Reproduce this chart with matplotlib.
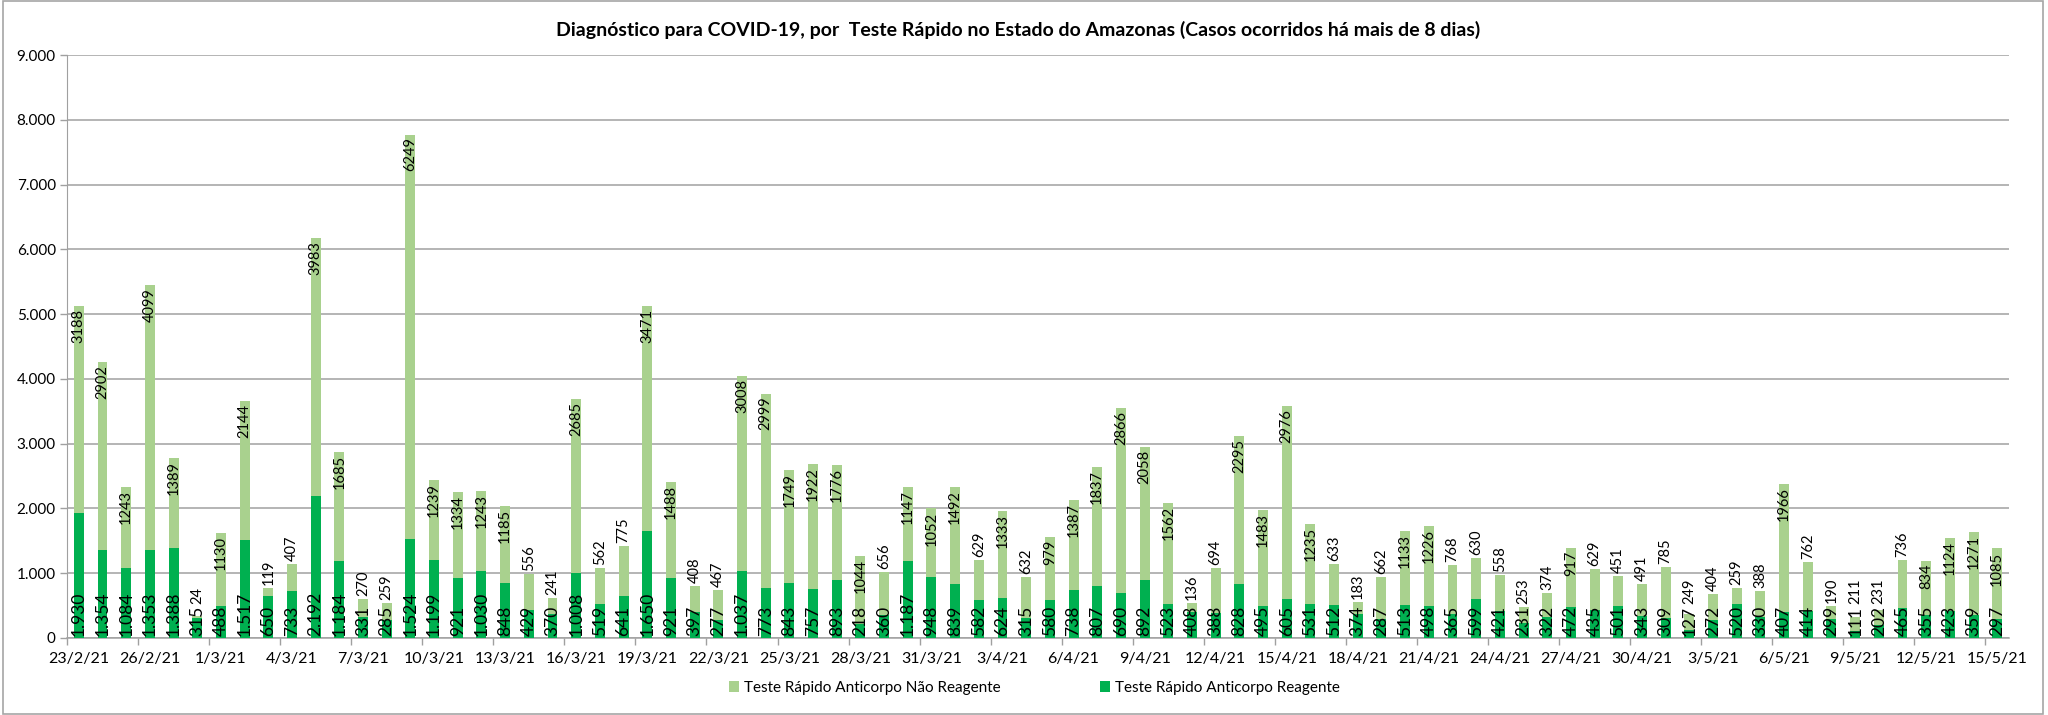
import matplotlib
matplotlib.use("Agg")
import matplotlib.pyplot as plt
from matplotlib.patches import Rectangle, Patch
from matplotlib.ticker import FuncFormatter, FixedLocator
import numpy as np
import pandas as pd

plt.rcParams['font.family'] = ['Lato', 'DejaVu Sans']

dates = pd.date_range('2021-02-23', '2021-05-15', freq='D')

reagente = [
    1930, 1354, 1084, 1353, 1388, 315, 488, 1517, 650, 733,
    2192, 1184, 331, 285, 1524, 1199, 921, 1030, 848, 429,
    370, 1008, 519, 641, 1650, 921, 397, 277, 1037, 773,
    843, 757, 893, 218, 360, 1187, 948, 839, 582, 624,
    315, 580, 738, 807, 690, 892, 523, 408, 388, 828,
    495, 605, 531, 512, 374, 287, 513, 498, 365, 599, 421,
    231, 322, 472, 435, 501, 343, 309, 127, 272, 520,
    330, 407, 414, 299, 111, 202, 465, 355, 423, 359, 297,
]
nao_reagente = [
    3188, 2902, 1243, 4099, 1389, 24, 1130, 2144, 119, 407,
    3983, 1685, 270, 259, 6249, 1239, 1334, 1243, 1185, 556,
    241, 2685, 562, 775, 3471, 1488, 408, 467, 3008, 2999,
    1749, 1922, 1776, 1044, 656, 1147, 1052, 1492, 629, 1333,
    632, 979, 1387, 1837, 2866, 2058, 1562, 136, 694, 2295,
    1483, 2976, 1235, 633, 183, 662, 1133, 1226, 768, 630, 558,
    253, 374, 917, 629, 451, 491, 785, 249, 404, 259,
    388, 1966, 762, 190, 211, 231, 736, 834, 1124, 1271, 1085,
]
tick_labels = ['23/2/21', '26/2/21', '1/3/21', '4/3/21', '7/3/21', '10/3/21',
               '13/3/21', '16/3/21', '19/3/21', '22/3/21', '25/3/21', '28/3/21',
               '31/3/21', '3/4/21', '6/4/21', '9/4/21', '12/4/21', '15/4/21',
               '18/4/21', '21/4/21', '24/4/21', '27/4/21', '30/4/21', '3/5/21',
               '6/5/21', '9/5/21', '12/5/21', '15/5/21']

title = 'Diagnóstico para COVID-19, por  Teste Rápido no Estado do Amazonas (Casos ocorridos há mais de 8 dias)'
name_nao = 'Teste Rápido Anticorpo Não Reagente'
name_rea = 'Teste Rápido Anticorpo Reagente'

LIGHT = '#A9D18E'
DARK = '#00B050'
GRID = '#A0A0A0'

fig = plt.figure(figsize=(20.48, 7.15), dpi=100)
ax = fig.add_axes([0.0327, 0.1077, 0.9483, 0.8153])

n = len(dates)
x = np.arange(n)
rea = np.array(reagente)
nao = np.array(nao_reagente)
w = 0.42
ax.bar(x, rea, width=w, color=DARK, zorder=3)
ax.bar(x, nao, width=w, bottom=rea, color=LIGHT, zorder=3)

ax.set_xlim(-0.5, n - 0.5)
ax.set_ylim(0, 9000)
ax.yaxis.set_major_locator(FixedLocator(np.arange(0, 9001, 1000)))
ax.yaxis.set_major_formatter(FuncFormatter(lambda v, p: f"{int(v):,}".replace(',', '.')))
ax.grid(axis='y', color=GRID, lw=1.1, zorder=0)
ax.set_axisbelow(True)

tick_pos = np.arange(0, n, 3)
ax.set_xticks(tick_pos)
ax.set_xticklabels(tick_labels[:len(tick_pos)], fontsize=11.5)
ax.tick_params(axis='x', which='major', length=0, pad=10)
ax.set_xticks(np.arange(-0.5, n, 3), minor=True)
ax.tick_params(axis='x', which='minor', length=5, color=GRID, width=1)
ax.tick_params(axis='y', length=5, color=GRID, width=1, labelsize=11, pad=3)

for s in ['top', 'right']:
    ax.spines[s].set_visible(False)
ax.spines['left'].set_color(GRID)
ax.spines['bottom'].set_color(GRID)
ax.spines['bottom'].set_linewidth(1.1)

fs_dark = 12.5
fs_light = 10.5
fig.canvas.draw()
renderer = fig.canvas.get_renderer()
inv = ax.transData.inverted()

for i in range(n):
    d = rea[i]
    l = nao[i]
    t1 = ax.annotate(f"{d:,}".replace(',', '.'), xy=(i, 0), xytext=(0, 1.5),
                     textcoords='offset points', rotation=90, ha='center',
                     va='bottom', fontsize=fs_dark, color='black', zorder=5)
    bb1 = t1.get_window_extent(renderer)
    dark_top_px = bb1.y1
    t2 = ax.text(i, 0, str(l), rotation=90, ha='center', va='bottom',
                 fontsize=fs_light, color='black', zorder=5)
    bb2 = t2.get_window_extent(renderer)
    L = bb2.height
    top_px = ax.transData.transform((i, d + l))[1]
    seg_bot_px = ax.transData.transform((i, d))[1]
    pad = 3
    if (top_px - seg_bot_px) >= L + 28 and (top_px - pad - L) >= dark_top_px + 2:
        bottom_px = top_px - pad - L
    else:
        bottom_px = max(top_px + pad, dark_top_px + 2)
    y_data = inv.transform((0, bottom_px))[1]
    t2.set_position((i, y_data))

fig.text(0.497, 0.958, title, ha='center', va='center', fontsize=14,
         fontweight='bold')

handles = [Patch(facecolor=LIGHT, edgecolor='none'), Patch(facecolor=DARK, edgecolor='none')]
fig.legend(handles, [name_nao, name_rea], loc='center', bbox_to_anchor=(0.505, 0.038),
           ncol=2, frameon=False, fontsize=11, handlelength=0.7, handleheight=0.7,
           handletextpad=0.3, columnspacing=6.5)

fig.patches.append(Rectangle((0.0015, 0.002), 0.996, 0.996, transform=fig.transFigure,
                             fill=False, edgecolor='#A6A6A6', lw=1.2))

fig.savefig('out.png', dpi=100)
